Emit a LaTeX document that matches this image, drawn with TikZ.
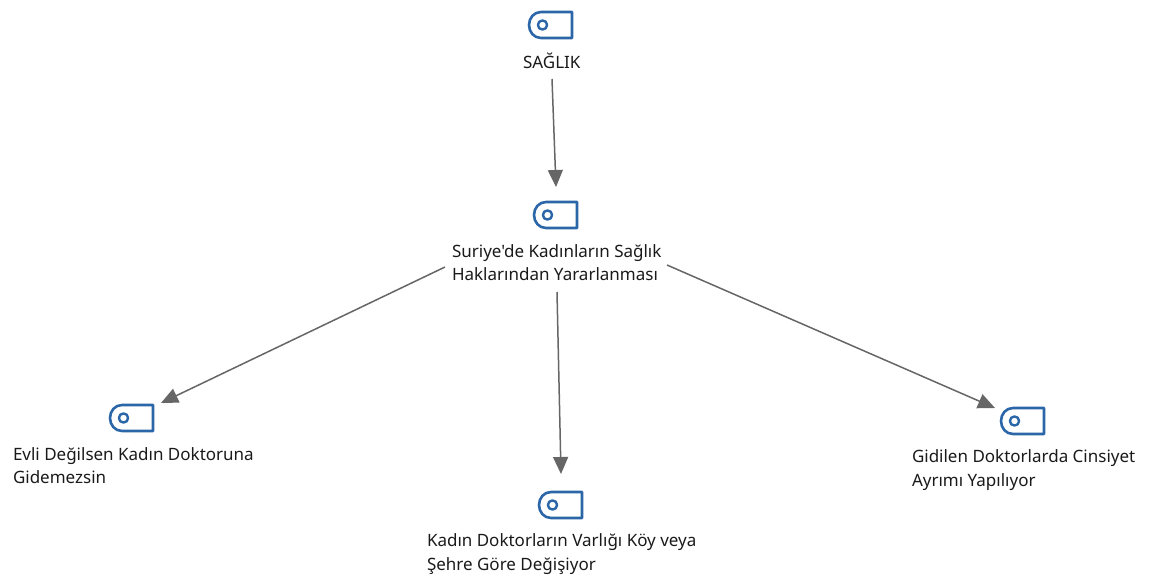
\documentclass[tikz,border=0pt]{standalone}
\usepackage{fontspec}
\newfontfamily\labelfont{Noto Sans}
\usetikzlibrary{arrows.meta}
\definecolor{iconblue}{HTML}{2A66A8}
\definecolor{linkgrey}{HTML}{666666}
\definecolor{labelink}{HTML}{1A1A1A}
\tikzset{
  x=1pt,y=-1pt,
  iconline/.style={draw=iconblue,line width=2.6pt,line join=round},
  lbl/.style={font=\labelfont\fontsize{17.0}{23.5}\selectfont,text=labelink,anchor=north west,align=left,inner sep=0pt,outer sep=0pt},
  link/.style={draw=linkgrey,line width=1.5pt,-{Triangle[length=17pt,width=15pt]}},
  tag/.pic={
    \path[iconline] (0,0) -- (0,26) -- (-31,26) .. controls (-38,26) and (-43,20) .. (-43,13) .. controls (-43,6) and (-38,0) .. (-31,0) -- cycle;
    \path[iconline,line width=2.4pt] (-29.5,13) circle (4.6);
  }
}
\begin{document}
\begin{tikzpicture}
\useasboundingbox (0,0) rectangle (1149,576);
\pic at (572,12) {tag};
\pic at (577,202) {tag};
\pic at (153,405) {tag};
\pic at (582,492) {tag};
\pic at (1044,408) {tag};
\node[lbl] (a) at (523,52.5) {SAĞLIK};
\node[lbl] (b) at (452,244.5) {Suriye'de Kadınların Sağlık\\Haklarından Yararlanması};
\node[lbl] (c) at (13,447.5) {Evli Değilsen Kadın Doktoruna\\Gidemezsin};
\node[lbl] (d) at (427,534) {Kadın Doktorların Varlığı Köy veya\\Şehre Göre Değişiyor};
\node[lbl] (e) at (912,450) {Gidilen Doktorlarda Cinsiyet\\Ayrımı Yapılıyor};
\coordinate (a1) at (552,79);
\coordinate (b0) at (556,187);
\coordinate (b1) at (445,267);
\coordinate (c0) at (161,403);
\coordinate (b2) at (557,292);
\coordinate (d0) at (561,474);
\coordinate (b3) at (667,265);
\coordinate (e0) at (995,408);
\draw[link] (a1) -- (b0);
\draw[link] (b1) -- (c0);
\draw[link] (b2) -- (d0);
\draw[link] (b3) -- (e0);
\end{tikzpicture}
\end{document}
